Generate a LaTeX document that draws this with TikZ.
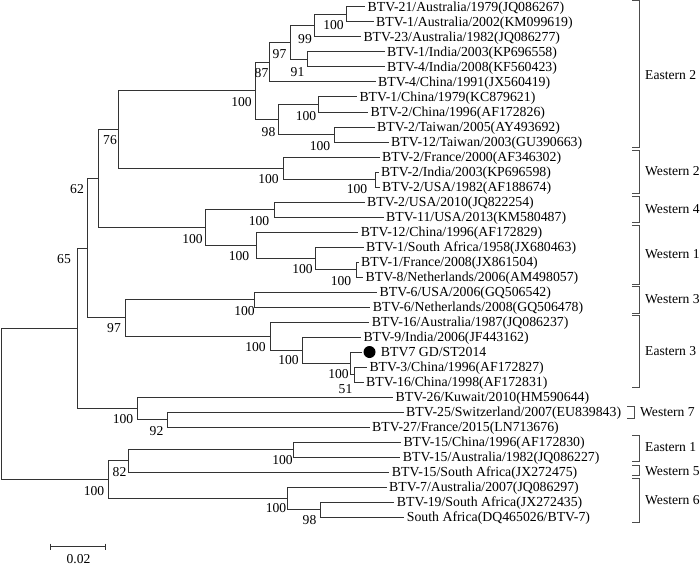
\documentclass[tikz,border=0pt]{standalone}
\usepackage{fontspec}
\setmainfont{Liberation Serif}
\begin{document}
\begin{tikzpicture}[x=1pt,y=-1pt,
  br/.style={line width=1pt, draw=black!80},
  lf/.style={anchor=west, inner xsep=2.5pt, inner ysep=0pt, text height=12.2pt, text depth=3.2pt, font=\fontsize{13.8}{15}\selectfont},
  bs/.style={inner sep=0pt, font=\fontsize{13.6}{15}\selectfont},
  grp/.style={anchor=west, inner sep=0pt, font=\fontsize{13.6}{15}\selectfont},
  brk/.style={line width=1pt, draw=black!70},
  dotnode/.style={circle, fill=black, inner sep=0pt, minimum size=12pt}]
\useasboundingbox (0,0) rectangle (700,567);
% internal nodes
\coordinate (R) at (1.7,403.84);
\coordinate (N65) at (77.3,328.18);
\coordinate (N62) at (87.3,248.11);
\coordinate (NX) at (98.3,178.45);
\coordinate (N76) at (118.3,129.58);
\coordinate (E2) at (255,90.9);
\coordinate (N87) at (269,62.31);
\coordinate (N97b) at (290,42.625);
\coordinate (N99) at (314.7,25.75);
\coordinate (N100a) at (346.7,14.5);
\coordinate (N91) at (307.7,59.5);
\coordinate (N98) at (278.3,119.5);
\coordinate (N100b) at (318.3,104.5);
\coordinate (N100c) at (334.3,134.5);
\coordinate (W2) at (283.3,168.25);
\coordinate (N100d) at (375,179.5);
\coordinate (W41) at (205.5,227.31);
\coordinate (N100e) at (274,209.5);
\coordinate (N100f) at (256,245.125);
\coordinate (N100g) at (315.7,258.25);
\coordinate (N100h) at (356,269.5);
\coordinate (N97) at (125,317.78);
\coordinate (W3) at (254.3,299.5);
\coordinate (N100j) at (270.7,336.06);
\coordinate (N100k) at (302.3,350.125);
\coordinate (N100l) at (350,363.25);
\coordinate (N51) at (354.3,374.5);
\coordinate (NW7) at (137.3,408.25);
\coordinate (N92) at (167.3,419.5);
\coordinate (NB) at (108.3,479.5);
\coordinate (N82) at (128.3,460.75);
\coordinate (N100m) at (293.3,449.5);
\coordinate (N100n) at (287.7,498.25);
\coordinate (N98b) at (320.7,509.5);
% leaves
\node[lf] (t1) at (365,7) {BTV-21/Australia/1979(JQ086267)};
\node[lf] (t2) at (373.5,22) {BTV-1/Australia/2002(KM099619)};
\node[lf] (t3) at (360.8,37) {BTV-23/Australia/1982(JQ086277)};
\node[lf] (t4) at (384.5,52) {BTV-1/India/2003(KP696558)};
\node[lf] (t5) at (384.5,67) {BTV-4/India/2008(KF560423)};
\node[lf] (t6) at (375.5,82) {BTV-4/China/1991(JX560419)};
\node[lf] (t7) at (356.8,97) {BTV-1/China/1979(KC879621)};
\node[lf] (t8) at (368,112) {BTV-2/China/1996(AF172826)};
\node[lf] (t9) at (374.5,127) {BTV-2/Taiwan/2005(AY493692)};
\node[lf] (t10) at (388.5,142) {BTV-12/Taiwan/2003(GU390663)};
\node[lf] (t11) at (379.5,157) {BTV-2/France/2000(AF346302)};
\node[lf] (t12) at (378.5,172) {BTV-2/India/2003(KP696598)};
\node[lf] (t13) at (379.5,187) {BTV-2/USA/1982(AF188674)};
\node[lf] (t14) at (364.5,202) {BTV-2/USA/2010(JQ822254)};
\node[lf] (t15) at (383.5,217) {BTV-11/USA/2013(KM580487)};
\node[lf] (t16) at (358.2,232) {BTV-12/China/1996(AF172829)};
\node[lf] (t17) at (363.5,247) {BTV-1/South Africa/1958(JX680463)};
\node[lf] (t18) at (358.5,262) {BTV-1/France/2008(JX861504)};
\node[lf] (t19) at (363,277) {BTV-8/Netherlands/2006(AM498057)};
\node[lf] (t20) at (377,292) {BTV-6/USA/2006(GQ506542)};
\node[lf] (t21) at (370.2,307) {BTV-6/Netherlands/2008(GQ506478)};
\node[lf] (t22) at (369.2,322) {BTV-16/Australia/1987(JQ086237)};
\node[lf] (t23) at (360.8,337) {BTV-9/India/2006(JF443162)};
\node[dotnode] (dot) at (369.5,352) {};
\node[lf, inner xsep=0pt] (t24) at (380.7,352) {BTV7 GD/ST2014};
\node[lf] (t25) at (366.8,367) {BTV-3/China/1996(AF172827)};
\node[lf] (t26) at (363.5,382) {BTV-16/China/1998(AF172831)};
\node[lf] (t27) at (393,397) {BTV-26/Kuwait/2010(HM590644)};
\node[lf] (t28) at (403.5,412) {BTV-25/Switzerland/2007(EU839843)};
\node[lf] (t29) at (369.5,427) {BTV-27/France/2015(LN713676)};
\node[lf] (t30) at (400.8,442) {BTV-15/China/1996(AF172830)};
\node[lf] (t31) at (400.2,457) {BTV-15/Australia/1982(JQ086227)};
\node[lf] (t32) at (389.2,472) {BTV-15/South Africa(JX272475)};
\node[lf] (t33) at (386.5,487) {BTV-7/Australia/2007(JQ086297)};
\node[lf] (t34) at (394.2,502) {BTV-19/South Africa(JX272435)};
\node[lf] (t35) at (404.2,517) {South Africa(DQ465026/BTV-7)};
% branches
\draw[br] (R) |- (N65); \draw[br] (R) |- (NB);
\draw[br] (N65) |- (N62); \draw[br] (N65) |- (NW7);
\draw[br] (N62) |- (NX); \draw[br] (N62) |- (N97);
\draw[br] (NX) |- (N76); \draw[br] (NX) |- (W41);
\draw[br] (N76) |- (E2); \draw[br] (N76) |- (W2);
\draw[br] (E2) |- (N87); \draw[br] (E2) |- (N98);
\draw[br] (N87) |- (N97b); \draw[br] (N87) |- (t6.west);
\draw[br] (N97b) |- (N99); \draw[br] (N97b) |- (N91);
\draw[br] (N99) |- (N100a); \draw[br] (N99) |- (t3.west);
\draw[br] (N100a) |- (t1.west); \draw[br] (N100a) |- (t2.west);
\draw[br] (N91) |- (t4.west); \draw[br] (N91) |- (t5.west);
\draw[br] (N98) |- (N100b); \draw[br] (N98) |- (N100c);
\draw[br] (N100b) |- (t7.west); \draw[br] (N100b) |- (t8.west);
\draw[br] (N100c) |- (t9.west); \draw[br] (N100c) |- (t10.west);
\draw[br] (W2) |- (t11.west); \draw[br] (W2) |- (N100d);
\draw[br] (N100d) |- (t12.west); \draw[br] (N100d) |- (t13.west);
\draw[br] (W41) |- (N100e); \draw[br] (W41) |- (N100f);
\draw[br] (N100e) |- (t14.west); \draw[br] (N100e) |- (t15.west);
\draw[br] (N100f) |- (t16.west); \draw[br] (N100f) |- (N100g);
\draw[br] (N100g) |- (t17.west); \draw[br] (N100g) |- (N100h);
\draw[br] (N100h) |- (t18.west); \draw[br] (N100h) |- (t19.west);
\draw[br] (N97) |- (W3); \draw[br] (N97) |- (N100j);
\draw[br] (W3) |- (t20.west); \draw[br] (W3) |- (t21.west);
\draw[br] (N100j) |- (t22.west); \draw[br] (N100j) |- (N100k);
\draw[br] (N100k) |- (t23.west); \draw[br] (N100k) |- (N100l);
\draw[br] (N100l) |- ([xshift=-1pt]dot.west); \draw[br] (N100l) |- (N51);
\draw[br] (N51) |- (t25.west); \draw[br] (N51) |- (t26.west);
\draw[br] (NW7) |- (t27.west); \draw[br] (NW7) |- (N92);
\draw[br] (N92) |- (t28.west); \draw[br] (N92) |- (t29.west);
\draw[br] (NB) |- (N82); \draw[br] (NB) |- (N100n);
\draw[br] (N82) |- (N100m); \draw[br] (N82) |- (t32.west);
\draw[br] (N100m) |- (t30.west); \draw[br] (N100m) |- (t31.west);
\draw[br] (N100n) |- (t33.west); \draw[br] (N100n) |- (N98b);
\draw[br] (N98b) |- (t34.west); \draw[br] (N98b) |- (t35.west);
% bootstrap values
\node[bs] (b1) at (333.5,25) {100};
\node[bs] (b2) at (305,39) {99};
\node[bs] (b3) at (279.5,54) {97};
\node[bs] (b4) at (297.5,72) {91};
\node[bs] (b5) at (261.5,73) {87};
\node[bs] (b6) at (241.5,102) {100};
\node[bs] (b7) at (306,116) {100};
\node[bs] (b8) at (268.5,132) {98};
\node[bs] (b9) at (320,146) {100};
\node[bs] (b10) at (110,140) {76};
\node[bs] (b11) at (268.5,179) {100};
\node[bs] (b12) at (357,189) {100};
\node[bs] (b13) at (77,189) {62};
\node[bs] (b14) at (192.5,239.3) {100};
\node[bs] (b15) at (259,221) {100};
\node[bs] (b16) at (239,256) {100};
\node[bs] (b17) at (302.5,269.3) {100};
\node[bs] (b18) at (341,281) {100};
\node[bs] (b19) at (64,259.3) {65};
\node[bs] (b20) at (114,327.7) {97};
\node[bs] (b21) at (244.5,310.7) {100};
\node[bs] (b22) at (255.5,346.7) {100};
\node[bs] (b23) at (288.5,360) {100};
\node[bs] (b24) at (338.5,374.3) {100};
\node[bs] (b25) at (345.5,389.3) {51};
\node[bs] (b26) at (123,419.3) {100};
\node[bs] (b27) at (156.5,430.7) {92};
\node[bs] (b28) at (119.5,471.7) {82};
\node[bs] (b29) at (94,490.7) {100};
\node[bs] (b30) at (282.5,460) {100};
\node[bs] (b31) at (276,508.3) {100};
\node[bs] (b32) at (309.5,520) {98};
% group brackets
\draw[brk] (632,0.7) -- (639,0.7) -- (639,147) -- (632,147);
\draw[brk] (632,150) -- (639,150) -- (639,193) -- (632,193);
\draw[brk] (632,196) -- (639,196) -- (639,222.7) -- (632,222.7);
\draw[brk] (632,225.7) -- (639,225.7) -- (639,284.3) -- (632,284.3);
\draw[brk] (632,286.5) -- (639,286.5) -- (639,313.5) -- (632,313.5);
\draw[brk] (632,315.5) -- (639,315.5) -- (639,387.3) -- (632,387.3);
\draw[brk] (627,406) -- (634,406) -- (634,418) -- (627,418);
\draw[brk] (632,435) -- (639,435) -- (639,461.7) -- (632,461.7);
\draw[brk] (632,465) -- (639,465) -- (639,475.5) -- (632,475.5);
\draw[brk] (632,478.5) -- (639,478.5) -- (639,522.7) -- (632,522.7);
\node[grp] (g1) at (645,75) {Eastern 2};
\node[grp] (g2) at (645,171.5) {Western 2};
\node[grp] (g3) at (645,209.5) {Western 4};
\node[grp] (g4) at (645,254) {Western 1};
\node[grp] (g5) at (645,299) {Western 3};
\node[grp] (g6) at (645,351) {Eastern 3};
\node[grp] (g7) at (640,412) {Western 7};
\node[grp] (g8) at (645,447) {Eastern 1};
\node[grp] (g9) at (645,471.5) {Western 5};
\node[grp] (g10) at (645,500.5) {Western 6};
% scale bar
\coordinate (s1) at (50.7,546.7);
\coordinate (s2) at (105.3,546.7);
\draw[br] (s1) -- (s2);
\draw[br] ([yshift=3pt]s1) -- ([yshift=-3pt]s1);
\draw[br] ([yshift=3pt]s2) -- ([yshift=-3pt]s2);
\node[bs] (sl) at (78.5,559.5) {0.02};
\end{tikzpicture}
\end{document}
